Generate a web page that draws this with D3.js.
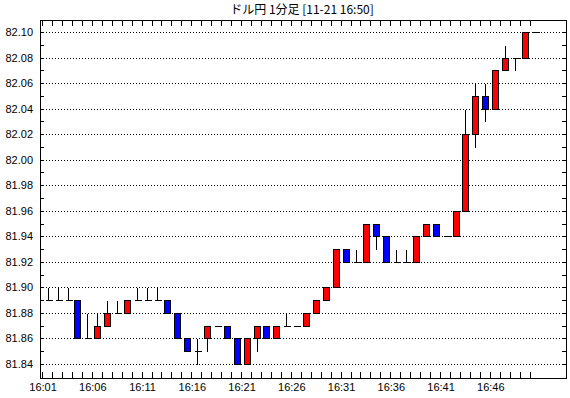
<!DOCTYPE html>
<html>
<head>
<meta charset="utf-8">
<script src="https://cdn.jsdelivr.net/npm/d3@7"></script>
<style>
  body { margin: 0; background: #fff; }
  svg { display: block; }
</style>
</head>
<body>
<div id="chart"></div>
<script>
// 1-minute candles, 16:01 - 16:50
const times = [
  '16:01', '16:02', '16:03', '16:04', '16:05', '16:06', '16:07', '16:08', '16:09', '16:10',
  '16:11', '16:12', '16:13', '16:14', '16:15', '16:16', '16:17', '16:18', '16:19', '16:20',
  '16:21', '16:22', '16:23', '16:24', '16:25', '16:26', '16:27', '16:28', '16:29', '16:30',
  '16:31', '16:32', '16:33', '16:34', '16:35', '16:36', '16:37', '16:38', '16:39', '16:40',
  '16:41', '16:42', '16:43', '16:44', '16:45', '16:46', '16:47', '16:48', '16:49', '16:50'
]
const open = [
  81.89, 81.89, 81.89, 81.89, 81.86, 81.86, 81.87, 81.88, 81.88, 81.89,
  81.89, 81.89, 81.89, 81.88, 81.86, 81.85, 81.86, 81.87, 81.87, 81.86,
  81.84, 81.86, 81.87, 81.86, 81.87, 81.87, 81.87, 81.88, 81.89, 81.90,
  81.93, 81.92, 81.92, 81.95, 81.94, 81.92, 81.92, 81.92, 81.94, 81.95,
  81.94, 81.94, 81.96, 82.02, 82.05, 82.04, 82.07, 82.08, 82.08, 82.10
]
const high = [
  81.90, 81.90, 81.90, 81.89, 81.88, 81.88, 81.89, 81.89, 81.89, 81.90,
  81.90, 81.90, 81.89, 81.88, 81.86, 81.86, 81.87, 81.87, 81.87, 81.86,
  81.86, 81.87, 81.87, 81.87, 81.88, 81.87, 81.88, 81.89, 81.90, 81.93,
  81.93, 81.93, 81.95, 81.95, 81.94, 81.93, 81.93, 81.94, 81.95, 81.95,
  81.94, 81.96, 82.04, 82.06, 82.06, 82.07, 82.09, 82.08, 82.10, 82.10
]
const low = [
  81.89, 81.89, 81.89, 81.86, 81.86, 81.86, 81.87, 81.88, 81.88, 81.89,
  81.89, 81.89, 81.88, 81.86, 81.85, 81.84, 81.85, 81.87, 81.86, 81.84,
  81.84, 81.85, 81.86, 81.86, 81.87, 81.87, 81.87, 81.88, 81.89, 81.90,
  81.92, 81.92, 81.92, 81.93, 81.92, 81.92, 81.92, 81.92, 81.94, 81.94,
  81.94, 81.94, 81.96, 82.01, 82.03, 82.04, 82.07, 82.07, 82.08, 82.10
]
const close = [
  81.89, 81.89, 81.89, 81.86, 81.86, 81.87, 81.88, 81.88, 81.89, 81.89,
  81.89, 81.89, 81.88, 81.86, 81.85, 81.85, 81.87, 81.87, 81.86, 81.84,
  81.86, 81.87, 81.86, 81.87, 81.87, 81.87, 81.88, 81.89, 81.90, 81.93,
  81.92, 81.92, 81.95, 81.94, 81.92, 81.92, 81.92, 81.94, 81.95, 81.94,
  81.94, 81.96, 82.02, 82.05, 82.04, 82.07, 82.08, 82.08, 82.10, 82.10
]
const yLabels = [81.84, 81.86, 81.88, 81.90, 81.92, 81.94, 81.96, 81.98, 82.00, 82.02, 82.04, 82.06, 82.08, 82.10]
const yMinor = [81.84, 81.85, 81.86, 81.87, 81.88, 81.89, 81.90, 81.91, 81.92, 81.93, 81.94, 81.95, 81.96, 81.97,
  81.98, 81.99, 82.00, 82.01, 82.02, 82.03, 82.04, 82.05, 82.06, 82.07, 82.08, 82.09, 82.10]
const xLabels = ['16:01', '16:06', '16:11', '16:16', '16:21', '16:26', '16:31', '16:36', '16:41', '16:46']
const title = 'ドル円 1分足 [11-21 16:50]'

const width = 570
const height = 398
const box = { left: 40, right: 566, top: 20, bottom: 378 }

const candles = times.map((t, i) => ({ t, o: open[i], h: high[i], l: low[i], c: close[i] }))

const svg = d3.select('#chart')
  .append('svg')
  .attr('width', width)
  .attr('height', height)
  .style('font-family', '"Liberation Sans", Arial, sans-serif')

const x = d3.scaleBand()
  .domain(times)
  .range([42.1, 42.1 + times.length * 9.95])
  .padding(0)

const y = d3.scaleLinear()
  .domain([81.84, 82.10])
  .range([364, 32])

const py = (v) => Math.round(y(v)) + 0.5
const cx = (t) => Math.round(x(t) + 5.5) + 0.5

svg.append('text')
  .attr('x', 302)
  .attr('y', 14)
  .attr('text-anchor', 'middle')
  .style('font-family', '"Noto Sans CJK JP", sans-serif')
  .style('font-size', '12px')
  .text(title)

// dotted grid
svg.append('g')
  .selectAll('line')
  .data(yLabels)
  .join('line')
  .attr('x1', box.left)
  .attr('x2', box.right)
  .attr('y1', (d) => py(d))
  .attr('y2', (d) => py(d))
  .attr('stroke', '#000')
  .attr('stroke-dasharray', '1,2')
  .attr('shape-rendering', 'crispEdges')

// y ticks, both sides, pointing inward
const yTicks = svg.append('g').attr('shape-rendering', 'crispEdges')
yTicks.selectAll('.yl')
  .data(yMinor)
  .join('line')
  .attr('x1', box.left)
  .attr('x2', box.left + 4)
  .attr('y1', (d) => py(d))
  .attr('y2', (d) => py(d))
  .attr('stroke', '#000')
yTicks.selectAll('.yr')
  .data(yMinor)
  .join('line')
  .attr('x1', box.right - 4)
  .attr('x2', box.right)
  .attr('y1', (d) => py(d))
  .attr('y2', (d) => py(d))
  .attr('stroke', '#000')

svg.append('g')
  .selectAll('text')
  .data(yLabels)
  .join('text')
  .attr('x', 33)
  .attr('y', (d) => y(d) + 4)
  .attr('text-anchor', 'end')
  .style('font-size', '11px')
  .text((d) => d.toFixed(2))

// x ticks, top and bottom
const xTicks = svg.append('g').attr('shape-rendering', 'crispEdges')
xTicks.selectAll('.xt')
  .data(times)
  .join('line')
  .attr('x1', (d) => Math.round(x(d)) + 0.5)
  .attr('x2', (d) => Math.round(x(d)) + 0.5)
  .attr('y1', box.top)
  .attr('y2', box.top + 6)
  .attr('stroke', '#000')
xTicks.selectAll('.xb')
  .data(times)
  .join('line')
  .attr('x1', (d) => Math.round(x(d)) + 0.5)
  .attr('x2', (d) => Math.round(x(d)) + 0.5)
  .attr('y1', box.bottom - 6)
  .attr('y2', box.bottom)
  .attr('stroke', '#000')

svg.append('g')
  .selectAll('text')
  .data(xLabels)
  .join('text')
  .attr('x', (d) => x(d) + 1)
  .attr('y', 391)
  .attr('text-anchor', 'middle')
  .style('font-size', '11px')
  .text((d) => d)

// candles
const g = svg.append('g').attr('shape-rendering', 'crispEdges')

g.selectAll('.wick')
  .data(candles)
  .join('line')
  .attr('x1', (d) => cx(d.t))
  .attr('x2', (d) => cx(d.t))
  .attr('y1', (d) => py(d.h))
  .attr('y2', (d) => py(d.l))
  .attr('stroke', '#000')

g.selectAll('.body')
  .data(candles.filter((d) => d.o !== d.c))
  .join('rect')
  .attr('x', (d) => cx(d.t) - 3)
  .attr('width', 6)
  .attr('y', (d) => py(Math.max(d.o, d.c)))
  .attr('height', (d) => py(Math.min(d.o, d.c)) - py(Math.max(d.o, d.c)))
  .attr('fill', (d) => d.c > d.o ? '#ff0000' : '#0000ff')
  .attr('stroke', '#000')

g.selectAll('.doji')
  .data(candles.filter((d) => d.o === d.c))
  .join('line')
  .attr('x1', (d) => cx(d.t) - 3)
  .attr('x2', (d) => cx(d.t) + 4)
  .attr('y1', (d) => py(d.c))
  .attr('y2', (d) => py(d.c))
  .attr('stroke', '#000')

// frame
svg.append('rect')
  .attr('x', box.left + 0.5)
  .attr('y', box.top + 0.5)
  .attr('width', box.right - box.left)
  .attr('height', box.bottom - box.top)
  .attr('fill', 'none')
  .attr('stroke', '#000')
  .attr('shape-rendering', 'crispEdges')
</script>
</body>
</html>
